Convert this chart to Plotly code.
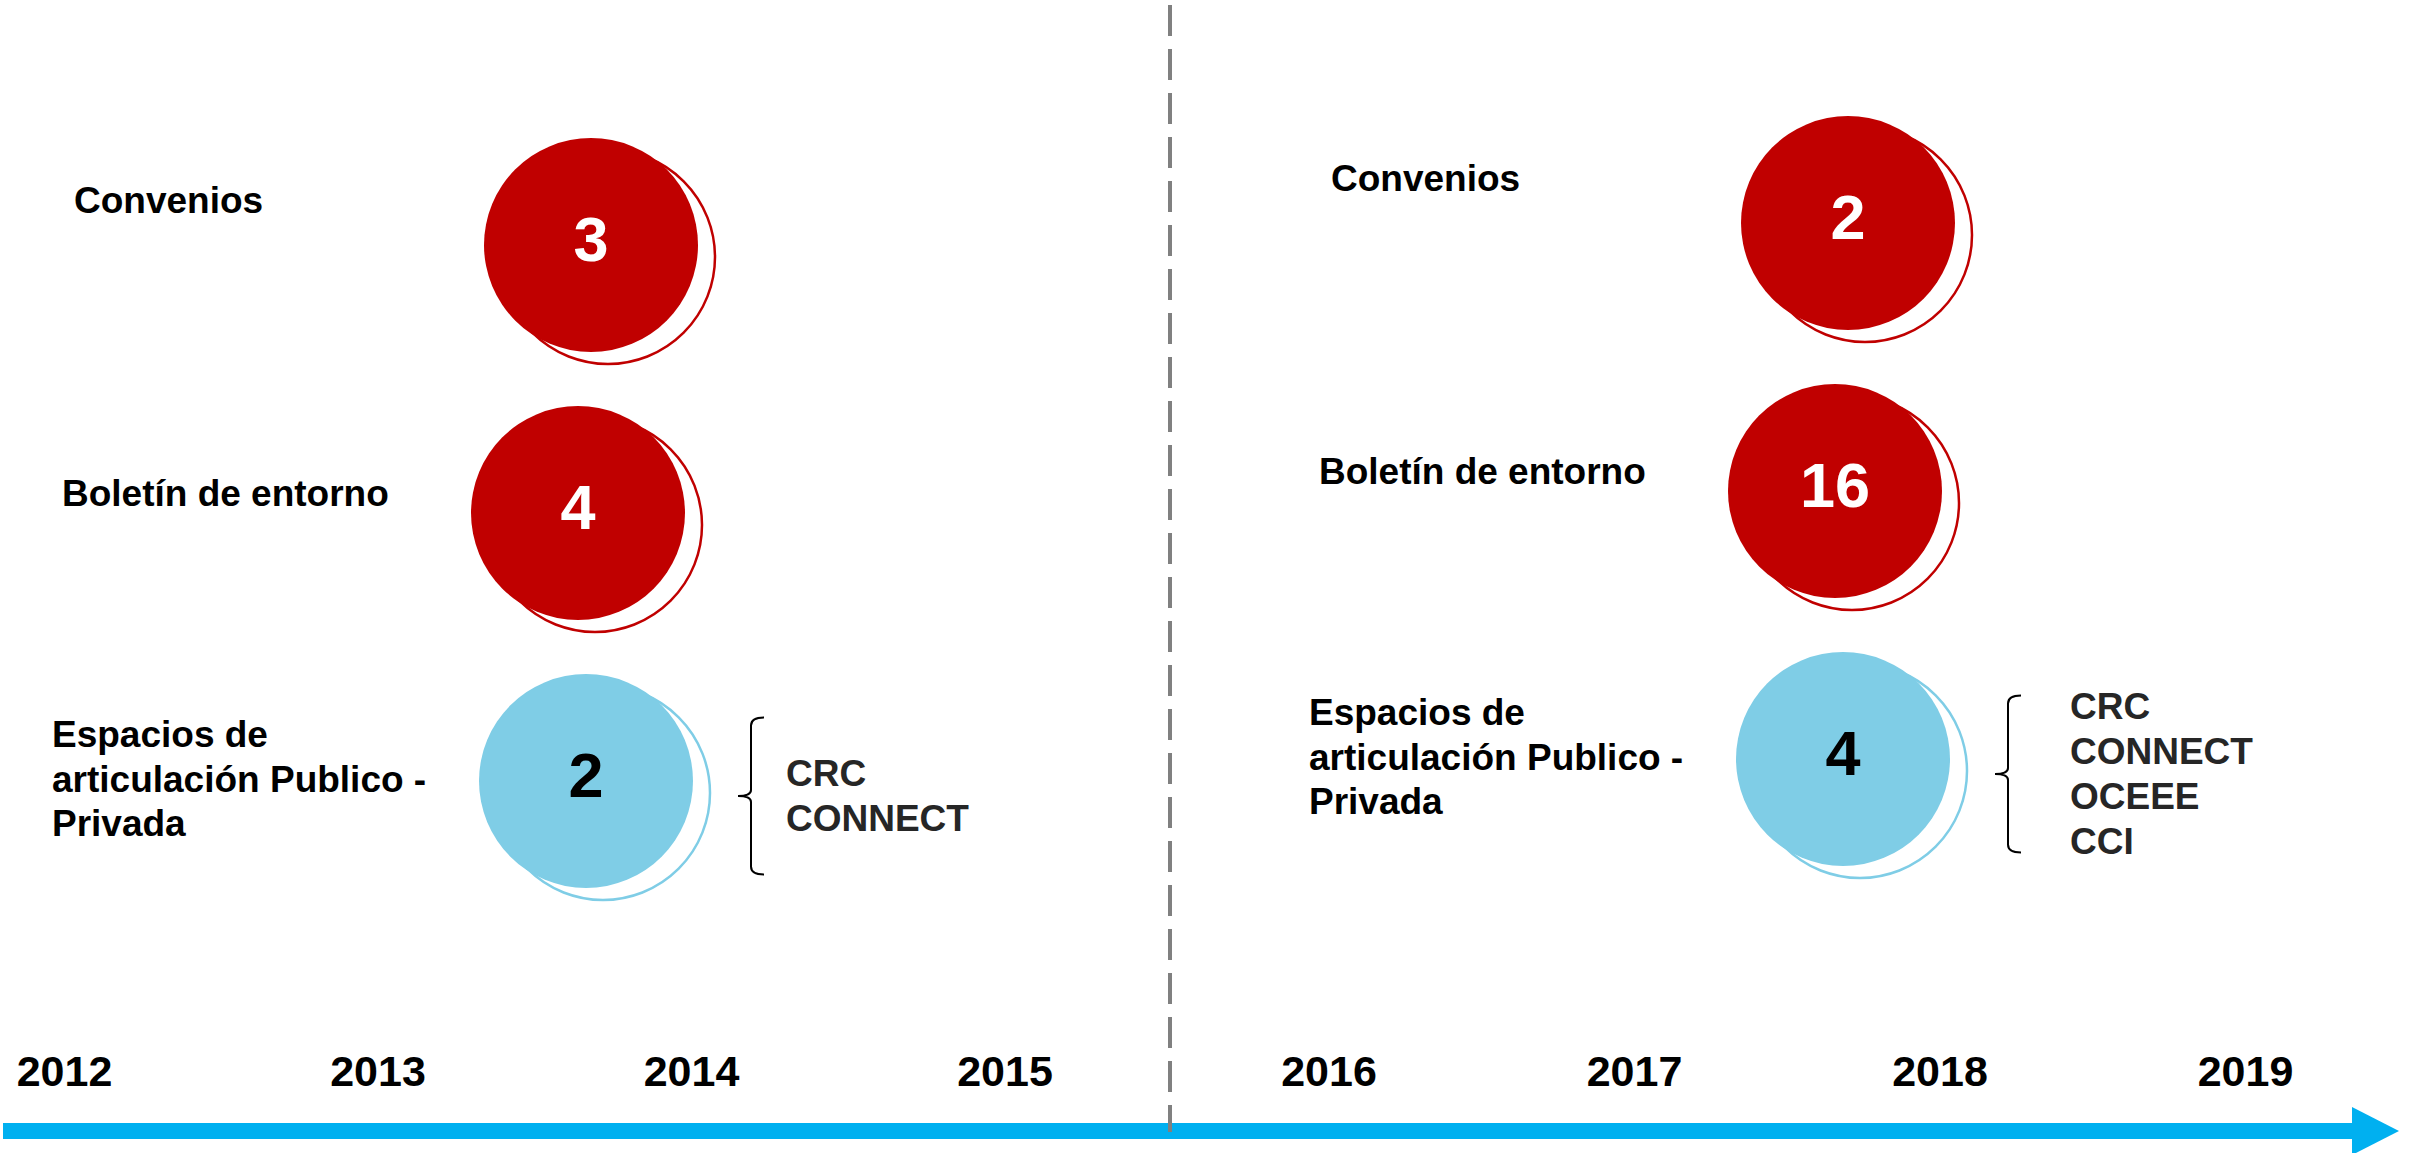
import plotly.graph_objects as go

# figure size in px, axes map 1:1 onto pixels
W, H = 2418, 1153

# ---- data ----
years = [2012, 2013, 2014, 2015, 2016, 2017, 2018, 2019]
categories = ["Convenios", "Boletín de entorno", "Espacios de<br>articulación Publico -<br>Privada"]
values_2012_2015 = [3, 4, 2]
values_2016_2019 = [2, 16, 4]
partners_2012_2015 = ["CRC", "CONNECT"]
partners_2016_2019 = ["CRC", "CONNECT", "OCEEE", "CCI"]

panels = [(values_2012_2015, partners_2012_2015), (values_2016_2019, partners_2016_2019)]

# ---- style / layout ----
RED = "#C00000"
BLUE = "#7FCDE6"
ARROW = "#00B0F0"
FONT = "Liberation Sans, Arial, sans-serif"
circle_fill = [RED, RED, BLUE]
number_color = ["white", "white", "black"]

PANEL_DX = [0, 1257]
PANEL_DY = [0, -22]
ROW_Y = [245, 513, 781]
CIRCLE_X = [591, 578, 586]
CIRCLE_SIZE = 214
RING_DX, RING_DY = 17, 12
LABEL_X = [72, 60, 50]
LABEL_DY = [-44.5, -20, -2]
LINE_H = 44.5
BRACE_X = [751, 2008]
BRACE_DY = 15
BRACE_HALF = 78.5
PARTNER_X = [784, 2068]
PARTNER_H = 45
# each panel holds 4 years along the timeline
YEAR_X0 = [64.5, 1329]
YEAR_STEP = [313.5, 305.5]
YEAR_Y = 1075

fig = go.Figure()
annotations = []
shapes = []

# timeline arrow
shapes.append(dict(type="rect", x0=3, x1=2353, y0=1123, y1=1139,
                   fillcolor=ARROW, line_width=0, layer="below"))
shapes.append(dict(type="path", path="M 2352,1107 L 2399,1131 L 2352,1155 Z",
                   fillcolor=ARROW, line_width=0, layer="below"))
# period separator
shapes.append(dict(type="line", x0=1170, x1=1170, y0=5, y1=1132,
                   line=dict(color="#808080", width=4, dash="31px,13px")))

for p, (vals, partners) in enumerate(panels):
    dx, dy = PANEL_DX[p], PANEL_DY[p]
    cx = [CIRCLE_X[i] + dx for i in range(len(vals))]
    cy = [ROW_Y[i] + dy for i in range(len(vals))]

    # offset outline ring behind each bubble
    fig.add_trace(go.Scatter(
        x=[x + RING_DX for x in cx], y=[y + RING_DY for y in cy], mode="markers",
        marker=dict(size=CIRCLE_SIZE, color="white",
                    line=dict(color=circle_fill, width=2.5)),
        hoverinfo="skip", showlegend=False))
    # filled bubble with the count
    fig.add_trace(go.Scatter(
        x=cx, y=cy, mode="markers+text",
        marker=dict(size=CIRCLE_SIZE, color=circle_fill, line=dict(width=0)),
        text=[str(v) for v in vals], textposition="middle center",
        textfont=dict(family=FONT, size=63, color=number_color, weight="bold"),
        hoverinfo="skip", showlegend=False))

    # row labels
    for i, cat in enumerate(categories):
        lines = cat.split("<br>")
        n = len(lines)
        for k, ln in enumerate(lines):
            annotations.append(dict(
                x=LABEL_X[i] + dx, y=ROW_Y[i] + dy + LABEL_DY[i] + (k - (n - 1) / 2) * LINE_H,
                text=ln, showarrow=False, xanchor="left", yanchor="middle",
                font=dict(family=FONT, size=37, color="black", weight="bold")))

    # curly brace + partner list
    bx = BRACE_X[p]
    bm = ROW_Y[2] + dy + BRACE_DY
    top, bot = bm - BRACE_HALF, bm + BRACE_HALF
    path = (f"M {bx+13},{top} Q {bx},{top} {bx},{top+8} L {bx},{bm-6} "
            f"Q {bx},{bm} {bx-13},{bm} Q {bx},{bm} {bx},{bm+6} "
            f"L {bx},{bot-8} Q {bx},{bot} {bx+13},{bot}")
    shapes.append(dict(type="path", path=path, line=dict(color="black", width=2)))
    n = len(partners)
    for k, name in enumerate(partners):
        annotations.append(dict(
            x=PARTNER_X[p], y=bm + (k - (n - 1) / 2) * PARTNER_H,
            text=name, showarrow=False, xanchor="left", yanchor="middle",
            font=dict(family=FONT, size=37, color="#262626", weight="bold")))

# year labels along the timeline
year_x = [YEAR_X0[i // 4] + (i % 4) * YEAR_STEP[i // 4] for i in range(len(years))]
fig.add_trace(go.Scatter(
    x=year_x, y=[YEAR_Y] * len(years),
    mode="text", text=[str(y) for y in years], textposition="middle center",
    textfont=dict(family=FONT, size=43, color="black", weight="bold"),
    hoverinfo="skip", showlegend=False))

fig.update_layout(
    width=W, height=H, margin=dict(l=0, r=0, t=0, b=0),
    paper_bgcolor="white", plot_bgcolor="white",
    xaxis=dict(range=[0, W], visible=False, fixedrange=True),
    yaxis=dict(range=[H, 0], visible=False, fixedrange=True),
    shapes=shapes, annotations=annotations, showlegend=False)

# drop the browser's default 8px body margin so the figure sits at the window origin
fig.write_html("out.html", config={"displayModeBar": False},
               post_script="document.body.style.margin='0';document.body.style.overflow='hidden';")
